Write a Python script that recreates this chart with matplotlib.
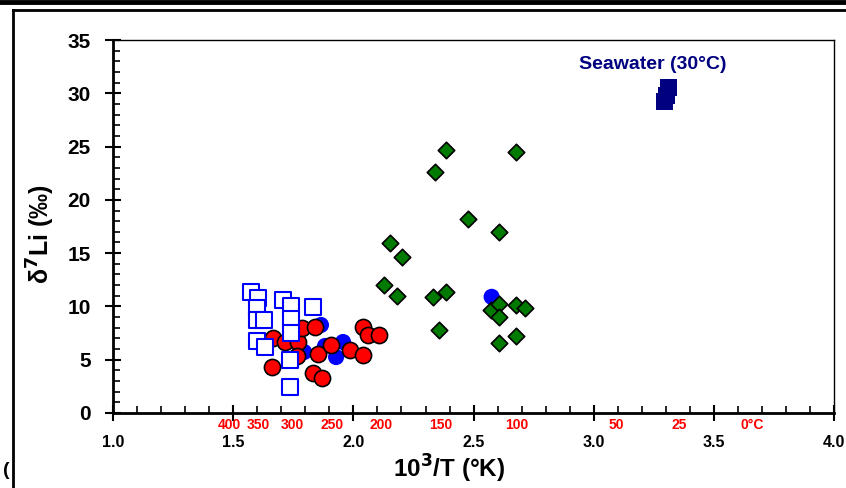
import matplotlib
matplotlib.use("Agg")
import matplotlib.pyplot as plt
from matplotlib.lines import Line2D
from matplotlib.ticker import MultipleLocator
import matplotlib.transforms as mtransforms
import numpy as np

plt.rcParams['font.family'] = ['Liberation Sans', 'DejaVu Sans']
plt.rcParams['font.weight'] = 'bold'
plt.rcParams['mathtext.default'] = 'bf'

# --- DATA
# open squares
sq_x = [1.574, 1.603, 1.599, 1.599, 1.628, 1.599, 1.632, 1.707, 1.740, 1.740, 1.740, 1.832, 1.736, 1.736]
sq_y = [11.35, 10.79, 9.85, 8.72, 8.72, 6.75, 6.19, 10.6, 10.04, 8.82, 7.5, 9.94, 4.97, 2.44]

# blue filled circles
bc_x = [1.865, 1.795, 1.882, 1.957, 1.928, 2.575]
bc_y = [8.26, 5.72, 6.29, 6.66, 5.25, 10.9]

# red circles
rc_x = [1.666, 1.715, 1.770, 1.786, 1.840, 1.765, 1.853, 1.907, 1.661, 1.832, 1.869,
        1.986, 2.040, 2.061, 2.106, 2.040]
rc_y = [7.04, 6.66, 6.66, 7.97, 8.07, 5.35, 5.53, 6.38, 4.32, 3.75, 3.28,
        5.91, 8.07, 7.32, 7.32, 5.44]

# green diamonds
gd_x = [2.385, 2.675, 2.341, 2.475, 2.604, 2.152, 2.201, 2.126, 2.180, 2.330, 2.386,
        2.357, 2.571, 2.607, 2.607, 2.675, 2.714, 2.607, 2.675]
gd_y = [24.67, 24.48, 22.64, 18.2, 16.98, 15.92, 14.61, 12.01, 11.0, 10.85, 11.32,
        7.79, 9.66, 10.23, 9.03, 10.13, 9.82, 6.59, 7.22]

# seawater
sw_x = [3.309, 3.304, 3.296]
sw_y = [30.5, 29.83, 29.27]

# temperature scale (deg C) shown in red under the axis
temps_C = [400, 350, 300, 250, 200, 150, 100, 50, 25, 0]
temp_labels = ['400', '350', '300', '250', '200', '150', '100', '50', '25', '0°C']

fig = plt.figure(figsize=(8.46, 4.88), dpi=100)
ax = fig.add_axes([0.1336, 0.1537, 0.8524, 0.7643])

ax.scatter(bc_x, bc_y, s=135, c='#0000FF', edgecolors='none', zorder=3)
ax.scatter(rc_x, rc_y, s=135, c='#FF0000', edgecolors='black', linewidths=1.2, zorder=4)
ax.scatter(sq_x, sq_y, s=135, marker='s', facecolors='white', edgecolors='#0000FF',
           linewidths=1.5, zorder=5)
ax.scatter(gd_x, gd_y, s=70, marker='D', c='#007A00', edgecolors='black', linewidths=1.2, zorder=6)
ax.scatter(sw_x, sw_y, s=150, marker='s', c='#000080', edgecolors='none', zorder=7)

ax.text(3.246, 32.74, 'Seawater (30°C)', color='#000080', fontsize=14, fontweight='bold',
        ha='center', va='center')

ax.set_xlim(1.0, 4.0)
ax.set_ylim(0, 35)
ax.xaxis.set_major_locator(MultipleLocator(0.5))
ax.xaxis.set_minor_locator(MultipleLocator(0.1))
ax.yaxis.set_major_locator(MultipleLocator(5))
ax.yaxis.set_minor_locator(MultipleLocator(1))
ax.xaxis.set_major_formatter(plt.FuncFormatter(lambda v, p: '%.1f' % v))

ax.tick_params(axis='both', which='major', direction='inout', length=12, width=1.5)
ax.tick_params(axis='both', which='minor', direction='in', length=5, width=1.2)
ax.tick_params(axis='x', which='major', labelsize=11.5, pad=10)
ax.tick_params(axis='y', which='major', labelsize=15, pad=10)
for lab in ax.get_xticklabels() + ax.get_yticklabels():
    lab.set_fontweight('bold')

for s in ['left', 'bottom']:
    ax.spines[s].set_linewidth(2)
for s in ['top', 'right']:
    ax.spines[s].set_linewidth(1)

ax.set_xlabel('10$^{3}$/T (°K)', fontsize=17.5, fontweight='bold')
ax.xaxis.set_label_coords(0.466, -0.108)
ax.set_ylabel('δ$^{7}$Li (‰)', fontsize=18, fontweight='bold')
ax.yaxis.set_label_coords(-0.077, 0.48)

# red temperature labels placed at 1000/T(K)
trans = mtransforms.blended_transform_factory(ax.transData, ax.transAxes)
for t, lab in zip(temps_C, temp_labels):
    ax.text(1000.0 / (t + 273.15), -0.032, lab, transform=trans, color='#FF0000',
            fontsize=10, fontweight='bold', ha='center', va='center')

# --- outer frame decorations
fig.add_artist(Line2D([0, 1], [1 - 2 / 488, 1 - 2 / 488], color='black', lw=3.5,
                      transform=fig.transFigure))
fig.add_artist(Line2D([13 / 846, 1], [1 - 10 / 488, 1 - 10 / 488], color='black', lw=2,
                      transform=fig.transFigure))
fig.add_artist(Line2D([13 / 846, 13 / 846], [0, 1 - 10 / 488], color='black', lw=2,
                      transform=fig.transFigure))
fig.text(0.003, 0.035, '(', fontsize=14, fontweight='bold', ha='left', va='center')

fig.savefig('out.png', dpi=100)
